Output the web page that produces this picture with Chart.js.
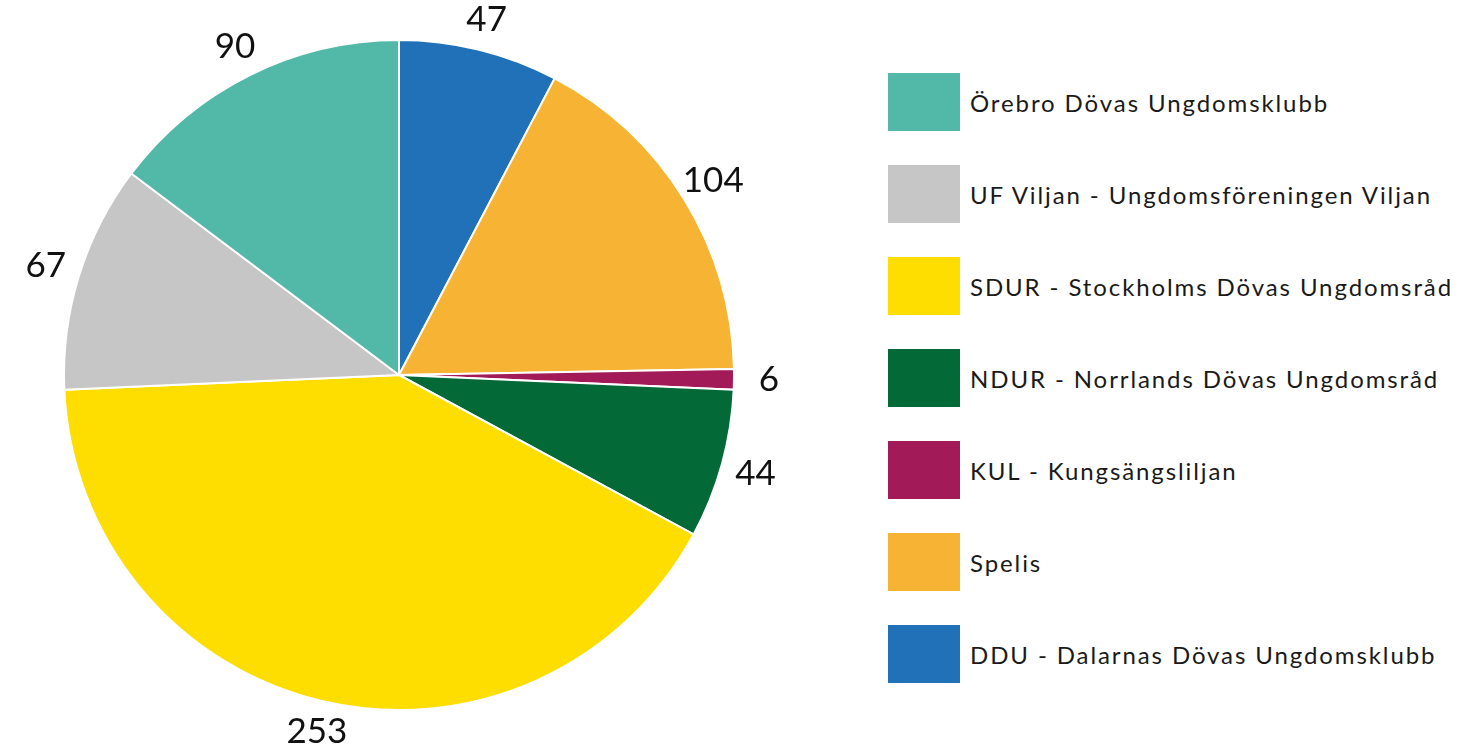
<!DOCTYPE html>
<html>
<head>
<meta charset="utf-8">
<script src="https://cdn.jsdelivr.net/npm/chart.js@4"></script>
<style>
  body { margin: 0; background: #fff; }
  #wrap { position: relative; width: 1481px; height: 755px; }
  #pieBox { position: absolute; left: 0; top: 0; width: 800px; height: 755px; }
  #legend { position: absolute; left: 888px; top: 73px; font-family: "Lato", sans-serif; font-size: 24px; letter-spacing: 1.9px; color: #1a1a1a; }
  .item { display: flex; align-items: center; height: 58px; margin-bottom: 34px; }
  .box { width: 72px; height: 58px; margin-right: 10px; flex: none; }
</style>
</head>
<body>
<div id="wrap">
  <div id="pieBox"><canvas id="chart1"></canvas></div>
  <div id="legend"></div>
</div>
<script>
// slices clockwise from 12 o'clock
var clubs = ["DDU - Dalarnas Dövas Ungdomsklubb", "Spelis", "KUL - Kungsängsliljan",
             "NDUR - Norrlands Dövas Ungdomsråd", "SDUR - Stockholms Dövas Ungdomsråd",
             "UF Viljan - Ungdomsföreningen Viljan", "Örebro Dövas Ungdomsklubb"];
var members = [47, 104, 6, 44, 253, 67, 90];
var sliceColors = ["#2171B9", "#F7B334", "#A21A57", "#036937", "#FEDD00", "#C6C6C6", "#52B9A9"];

// legend is listed in reverse order
var legend = document.getElementById('legend');
for (var i = clubs.length - 1; i >= 0; i--) {
    var row = document.createElement('div');
    row.className = 'item';
    row.innerHTML = '<div class="box" style="background:' + sliceColors[i] + '"></div><span>' + clubs[i] + '</span>';
    legend.appendChild(row);
}

const outsideLabels = {
    id: 'outsideLabels',
    afterDatasetsDraw(chart) {
        const ctx = chart.ctx;
        const meta = chart.getDatasetMeta(0);
        ctx.save();
        ctx.font = '35px Lato, sans-serif';
        ctx.fillStyle = '#111';
        ctx.textAlign = 'center';
        ctx.textBaseline = 'middle';
        meta.data.forEach(function (arc, i) {
            var mid = (arc.startAngle + arc.endAngle) / 2;
            // labels near the top/bottom sit a bit closer to the pie
            var r = arc.outerRadius + 30 + 5 * Math.abs(Math.cos(mid));
            ctx.fillText(String(members[i]), arc.x + Math.cos(mid) * r, arc.y + Math.sin(mid) * r);
        });
        ctx.restore();
    }
};

const ctx = document.getElementById('chart1');
var chart = new Chart(ctx, {
    type: 'pie',
    data: {
        labels: clubs,
        datasets: [{
            data: members,
            backgroundColor: sliceColors,
            borderColor: '#fff',
            borderWidth: 2,
            hoverOffset: 0
        }]
    },
    options: {
        responsive: true,
        maintainAspectRatio: false,
        animation: false,
        layout: { padding: { top: 39, bottom: 44, left: 63, right: 65 } },
        plugins: {
            legend: { display: false },
            tooltip: { enabled: false }
        }
    },
    plugins: [outsideLabels]
});
</script>
</body>
</html>
